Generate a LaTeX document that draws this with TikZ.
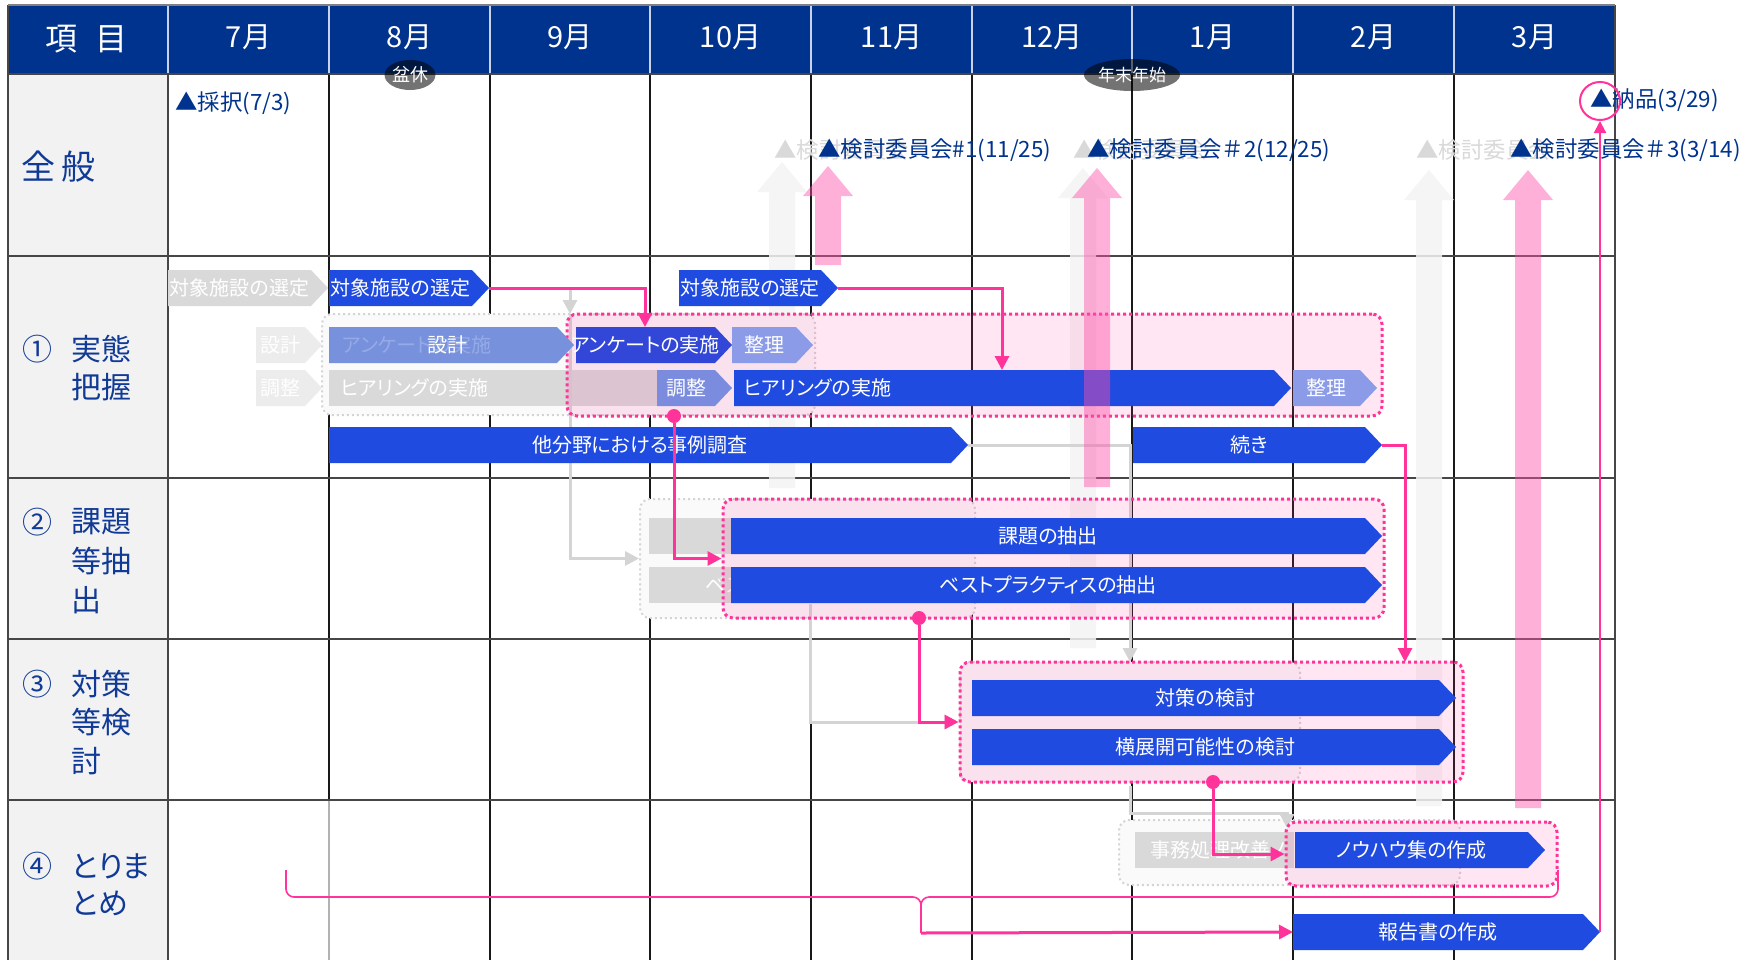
\documentclass[tikz,border=0pt]{standalone}
\usepackage{fontspec}
\setmainfont{Noto Sans CJK JP}[RawFeature=+palt]
\newfontfamily\msfont{Noto Sans CJK JP}
\usetikzlibrary{arrows.meta,shapes.geometric}
\definecolor{hdr}{RGB}{0,51,141}
\definecolor{lbl}{RGB}{16,58,150}
\definecolor{barblue}{RGB}{32,75,224}
\definecolor{anketo}{RGB}{50,70,215}
\definecolor{midblue}{RGB}{120,145,220}
\definecolor{faintblue}{RGB}{150,170,232}
\definecolor{chosei}{RGB}{123,140,223}
\definecolor{seiri}{RGB}{140,155,232}
\definecolor{ghost}{RGB}{217,217,217}
\definecolor{ghostl}{RGB}{236,236,236}
\definecolor{ghostln}{RGB}{212,212,212}
\definecolor{ghostarr}{RGB}{244,244,244}
\definecolor{pinkc}{RGB}{255,51,153}
\definecolor{pinkarr}{RGB}{255,80,170}
\definecolor{leftbg}{RGB}{242,242,242}
\definecolor{gridc}{RGB}{25,25,25}
\definecolor{rowc}{RGB}{70,70,70}
\definecolor{hdrline}{RGB}{200,210,235}
\pgfdeclarelayer{back}
\pgfsetlayers{back,main}

% centred-text bar with pointer: fill, name, x1, x2, y, text
\newcommand\barC[6]{%
  \fill[#1] (#3,#5-18) -- (#4-17,#5-18) -- (#4,#5) -- (#4-17,#5+18) -- (#3,#5+18) -- cycle;
  \coordinate (#2-w) at (#3,#5);
  \coordinate (#2-e) at (#4,#5);
  \node[bartext] (#2) at ({(#3+#4-17)/2},#5) {#6};}
% left-text bar: fill, name, x1, x2, y, textx, text
\newcommand\barL[7]{%
  \fill[#1] (#3,#5-18) -- (#4-17,#5-18) -- (#4,#5) -- (#4-17,#5+18) -- (#3,#5+18) -- cycle;
  \coordinate (#2-w) at (#3,#5);
  \coordinate (#2-e) at (#4,#5);
  \node[bartext,anchor=west] (#2) at (#6,#5) {#7};}
% big arrow: style, xc, ytip, ybottom
\newcommand\bigarrow[4]{%
  \fill[#1] (#2-13,#4) -- (#2-13,#3+30) -- (#2-25,#3+30) -- (#2,#3) -- (#2+25,#3+30) -- (#2+13,#3+30) -- (#2+13,#4) -- cycle;}

\begin{document}
\begin{tikzpicture}[x=0.5pt,y=-0.5pt,
  bartext/.style={text=white, font=\fontsize{10}{12}\selectfont, inner sep=0pt},
  ms/.style={text=hdr, font=\msfont\fontsize{11.2}{13}\selectfont, inner sep=0pt, anchor=west},
  msg/.style={ms, text=ghost},
  rowlbl/.style={text=lbl, font=\fontsize{15}{18}\selectfont, inner sep=0pt},
  hdrtxt/.style={text=white, font=\fontsize{14.5}{17}\selectfont, inner sep=0pt},
  pinkbox/.style={draw=pinkc, line width=1.5pt, dash pattern=on 1.5pt off 1.5pt, fill=pinkc, fill opacity=0.12, draw opacity=1, rounded corners=5pt, inner sep=0pt},
  ghostbox/.style={draw=ghostln, line width=1pt, dash pattern=on 1pt off 1.5pt, fill={rgb,255:red,250;green,250;blue,250}, rounded corners=5pt, inner sep=0pt},
  pinkconn/.style={draw=pinkc, line width=1.5pt, -{Triangle[length=7pt,width=7pt]}},
  greyconn/.style={draw=ghostln, line width=1.5pt, -{Triangle[length=7pt,width=7pt]}},
  pinkdot/.style={circle, fill=pinkc, minimum size=7pt, inner sep=0pt},
  ghosttxt/.style={text=white, font=\fontsize{10}{12}\selectfont, inner sep=0pt},
]
\path[use as bounding box] (0,0) rectangle (1758,960);

\begin{pgfonlayer}{back}
\fill[white] (0,0) rectangle (1758,960);
% header and left column
\fill[hdr] (8,5) rectangle (1615,74);
\fill[leftbg] (8,74) rectangle (168,960);
% grid
\foreach \x in {490,650,811,972,1132,1293,1454}
  \draw[gridc, line width=0.6pt] (\x,74) -- (\x,960);
\draw[gridc, line width=0.6pt] (329,74) -- (329,800);
\draw[gray!60, line width=0.6pt] (329,800) -- (329,960);
\foreach \x in {168,329,490,650,811,972,1132,1293,1454}
  \draw[hdrline, line width=0.6pt] (\x,5) -- (\x,74);
\foreach \y in {256,478,639,800}
  \draw[rowc, line width=1.2pt] (8,\y) -- (1615,\y);
\draw[rowc, line width=1.2pt] (8,74) -- (1615,74);
\draw[rowc, line width=1pt] (168,74) -- (168,960);
\draw[rowc, line width=1.2pt] (8,5) -- (8,960);
\draw[rowc, line width=1.2pt] (1615,5) -- (1615,960);
\draw[gray, line width=1pt] (8,5) -- (1615,5);
% ghost big arrows
\bigarrow{ghostarr, fill opacity=0.85}{782}{162}{488}
\bigarrow{ghostarr, fill opacity=0.85}{1083}{168}{648}
\bigarrow{ghostarr, fill opacity=0.85}{1429}{170}{806}
% ghost boxes
\node[ghostbox, minimum width=246.5pt, minimum height=50.5pt] (gbox1) at (568.5,364.5) {};
\node[ghostbox, minimum width=167.5pt, minimum height=59.5pt] (gbox2) at (807.5,558.5) {};
\node[ghostbox, minimum width=170pt, minimum height=60pt] (gbox3) at (1130,722) {};
\node[ghostbox, minimum width=170.5pt, minimum height=32.5pt] (gbox4) at (1289.5,852.5) {};
% ghost bars
\barC{ghost}{gsel}{168}{328}{288}{対象施設の選定}
\barC{ghostl}{gsekkei}{256}{322}{345}{設計}
\barC{ghostl}{gchosei}{256}{322}{388}{調整}
\fill[ghost] (329,370) rectangle (657,406);
\node[ghosttxt, anchor=west] (ghear) at (340,388) {ヒアリングの実施};
\fill[ghost] (649,518) rectangle (735,554);
\fill[ghost] (649,567) rectangle (735,603);
\node[ghosttxt, anchor=west] (gbest) at (705,585) {ベストプラクティスの抽出};
\fill[ghost] (1135,832) rectangle (1294,868);
\node[ghosttxt, anchor=west] (gjimu) at (1150,850) {事務処理改善ノ};
\end{pgfonlayer}

% pink boxes
\node[pinkbox, minimum width=407.5pt, minimum height=51pt] (box1) at (974.5,365) {};
\node[pinkbox, minimum width=330.5pt, minimum height=59.5pt] (box2) at (1053.5,558.5) {};
\node[pinkbox, minimum width=251.5pt, minimum height=60pt] (box3) at (1211.5,722) {};
\node[pinkbox, minimum width=135.5pt, minimum height=32pt] (box4) at (1421.5,854) {};

% real bars
\barC{barblue}{sel1}{329}{489}{288}{対象施設の選定}
\barC{barblue}{sel2}{679}{838}{288}{対象施設の選定}
\fill[midblue] (329,327) -- (557,327) -- (574,345) -- (557,363) -- (329,363) -- cycle;
\coordinate (sekkei-w) at (329,345);
\coordinate (sekkei-e) at (574,345);
\node[bartext, text=faintblue, anchor=west] (sekkeifaint) at (342,345) {アンケートの実施};
\node[bartext] (sekkei) at (447,345) {設計};
\barC{anketo}{anq}{576}{732}{345}{アンケートの実施}
\barC{seiri}{seiri1}{732}{813}{345}{整理}
\barC{chosei}{chosei}{657}{732}{388}{調整}
\barL{barblue}{hear}{734}{1291}{388}{743}{ヒアリングの実施}
\barC{seiri}{seiri2}{1293}{1377}{388}{整理}
\barC{barblue}{tabunya}{329}{968}{445}{他分野における事例調査}
\barC{barblue}{tsuzuki}{1133}{1382}{445}{続き}
\barC{barblue}{kadai}{731}{1382}{536}{課題の抽出}
\barC{barblue}{best}{731}{1382}{585}{ベストプラクティスの抽出}
\barC{barblue}{taisaku}{972}{1456}{698}{対策の検討}
\barC{barblue}{yoko}{972}{1456}{747}{横展開可能性の検討}
\barC{barblue}{knowhow}{1295}{1545}{850}{ノウハウ集の作成}
\barC{barblue}{hokoku}{1293}{1600}{932}{報告書の作成}

% ghost connectors (behind)
\begin{pgfonlayer}{back}
\coordinate (g1end) at (570,314);
\draw[greyconn] (sel1-e) -| (g1end);
\coordinate (g2s) at (570,314);
\draw[greyconn] (g2s) |- (gbox2.west);
\coordinate (g3end) at (1130,662);
\draw[greyconn] (tabunya-e) -| (g3end);
\coordinate (g4s) at (810,604);
\draw[greyconn] (g4s) |- (box3.west);
\coordinate (g5s) at (1130,786);
\coordinate (g5m) at (1287,813);
\coordinate (g5end) at (1287,828);
\draw[greyconn] (g5s) |- (g5m) -- (g5end);
\end{pgfonlayer}

% pink connectors
\coordinate (c1end) at (645,327);
\draw[pinkconn] (sel1-e) -| (c1end);
\coordinate (c2end) at (1002,370);
\draw[pinkconn] (sel2-e) -| (c2end);
\node[pinkdot] (d1) at (674,416) {};
\draw[pinkconn] (d1) |- (box2.west);
\node[pinkdot] (d2) at (919,618) {};
\draw[pinkconn] (d2) |- (box3.west);
\node[pinkdot] (d3) at (1213,782) {};
\draw[pinkconn] (d3) |- (box4.west);
\coordinate (c4end) at (1405,662);
\draw[pinkconn] (tsuzuki-e) -| (c4end);
% brace to report
\draw[pinkc, line width=0.8pt, rounded corners=4pt] (286,870) -- (286,897) -- (921,897) -- (921,933);
\draw[pinkc, line width=0.8pt, rounded corners=4pt] (1558,870) -- (1558,897) -- (921,897) -- (921,912);
\coordinate (bracetip) at (921,933);
\draw[pinkconn] (bracetip) -- (hokoku-w);

% pink big arrows
\bigarrow{pinkarr, fill opacity=0.45}{828}{166}{265}
\bigarrow{pinkarr, fill opacity=0.45}{1097}{168}{487}
\bigarrow{pinkarr, fill opacity=0.45}{1528}{170}{808}

% header texts
\node[hdrtxt, font=\fontsize{16}{18}\selectfont] (hitem) at (87,39) {項\hspace{9pt}目};
\node[hdrtxt] (h7) at (248.5,37) {7月};
\node[hdrtxt] (h8) at (409.5,37) {8月};
\node[hdrtxt] (h9) at (570,37) {9月};
\node[hdrtxt] (h10) at (730.5,37) {10月};
\node[hdrtxt] (h11) at (891.5,37) {11月};
\node[hdrtxt] (h12) at (1052,37) {12月};
\node[hdrtxt] (h1) at (1212.5,37) {1月};
\node[hdrtxt] (h2) at (1373.5,37) {2月};
\node[hdrtxt] (h3) at (1534.5,37) {3月};
\node[ellipse, fill=black, fill opacity=0.55, text opacity=1, text=white, minimum width=25pt, minimum height=15pt, inner sep=0pt, font=\fontsize{9}{10}\selectfont] (bon) at (410,75) {盆休};
\node[ellipse, fill=black, fill opacity=0.55, text opacity=1, text=white, minimum width=34pt, minimum height=16pt, inner sep=0pt, font=\fontsize{8.5}{10}\selectfont] (nenmatsu) at (1132,75) {年末年始};

% left column labels
\node[rowlbl, anchor=west, font=\fontsize{17}{20}\selectfont] (zenpan) at (21,167) {全\hspace{3pt}般};
\node[rowlbl] (n1) at (37,349) {①};
\node[rowlbl, anchor=west] (l1a) at (71,349) {実態};
\node[rowlbl, anchor=west] (l1b) at (71,387) {把握};
\node[rowlbl] (n2) at (37,522) {②};
\node[rowlbl, anchor=west] (l2a) at (71,522) {課題};
\node[rowlbl, anchor=west] (l2b) at (71,561) {等抽};
\node[rowlbl, anchor=west] (l2c) at (71,600) {出};
\node[rowlbl] (n3) at (37,684) {③};
\node[rowlbl, anchor=west] (l3a) at (71,684) {対策};
\node[rowlbl, anchor=west] (l3b) at (71,722) {等検};
\node[rowlbl, anchor=west] (l3c) at (71,761) {討};
\node[rowlbl] (n4) at (37,866) {④};
\node[rowlbl, anchor=west] (l4a) at (71,866) {とりま};
\node[rowlbl, anchor=west] (l4b) at (71,903) {とめ};

% milestones
\node[ms] (m1) at (175,103) {▲採択(7/3)};
\node[msg] (m2g) at (774,150) {▲検討委員会};
\node[ms] (m2) at (818,150) {▲検討委員会\#1(11/25)};
\node[msg] (m3g) at (1073,150) {▲検討委員会};
\node[ms] (m3) at (1087,150) {▲検討委員会＃2(12/25)};
\node[msg] (m4g) at (1416,150) {▲検討委員会};
\node[ms] (m4) at (1510,150) {▲検討委員会＃3(3/14)};
\node[ms] (m5) at (1590,100) {▲納品(3/29)};
\node[ellipse, draw=pinkc, line width=1pt, minimum width=20pt, minimum height=19pt, inner sep=0pt] (nohinc) at (1600,101) {};
\draw[draw=pinkc, line width=1pt, -{Triangle[length=6pt,width=6pt]}] (hokoku-e) -- (nohinc.south);
\end{tikzpicture}
\end{document}
